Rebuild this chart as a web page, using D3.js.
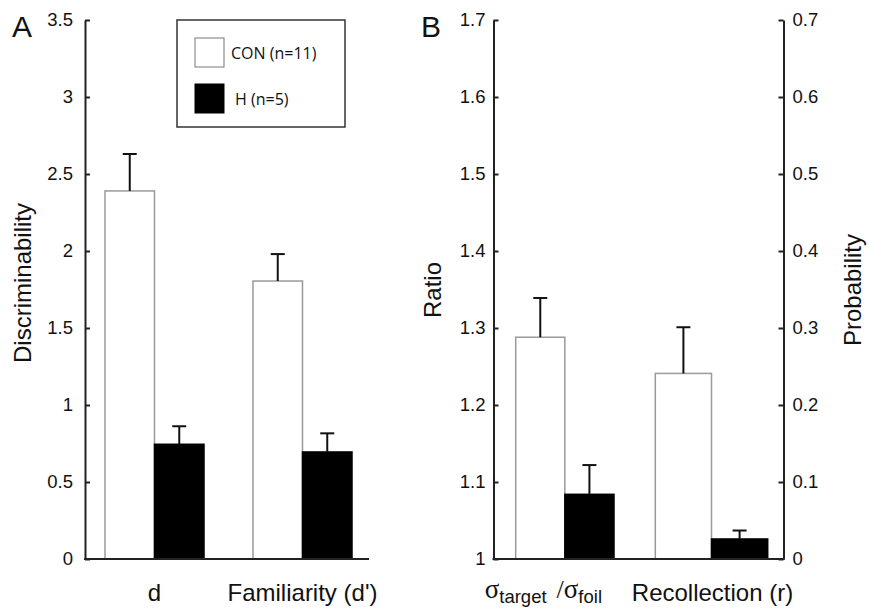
<!DOCTYPE html>
<html>
<head>
<meta charset="utf-8">
<script src="https://cdn.jsdelivr.net/npm/d3@7"></script>
<style>
  html, body { margin: 0; padding: 0; background: #fff; }
  svg { display: block; }
  text { font-family: "Liberation Sans", Arial, sans-serif; fill: #111; }
</style>
</head>
<body>
<svg id="chart" width="869" height="608"></svg>
<script>
// ---------- DATA ----------
const groups = ["CON", "H"];
const legendLabels = ["CON (n=11)", "H (n=5)"];

// Panel A
const categoriesA = ["d", "Familiarity (d')"];
const meanCON_A = [2.39, 1.805];
const errCON_A = [2.63, 1.98];
const meanH_A = [0.745, 0.695];
const errH_A = [0.862, 0.816];
const ticksA = [0, 0.5, 1, 1.5, 2, 2.5, 3, 3.5];
const tickLabelsA = ["0", "0.5", "1", "1.5", "2", "2.5", "3", "3.5"];

// Panel B (left axis: ratio, right axis: probability)
const categoriesB = ["σtarget / σfoil", "Recollection (r)"];
const meanCON_ratio = 1.288;
const errCON_ratio = 1.339;
const meanH_ratio = 1.084;
const errH_ratio = 1.122;
const meanCON_prob = 0.241;
const errCON_prob = 0.301;
const meanH_prob = 0.026;
const errH_prob = 0.037;
const ticksRatio = [1, 1.1, 1.2, 1.3, 1.4, 1.5, 1.6, 1.7];
const tickLabelsRatio = ["1", "1.1", "1.2", "1.3", "1.4", "1.5", "1.6", "1.7"];
const ticksProb = [0, 0.1, 0.2, 0.3, 0.4, 0.5, 0.6, 0.7];
const tickLabelsProb = ["0", "0.1", "0.2", "0.3", "0.4", "0.5", "0.6", "0.7"];

// ---------- DRAW ----------
const svg = d3.select("#chart");
const yBottom = 559, yTop = 20;
const tickFont = "18.5px";
const labelFont = "24px";
const serif = '"Liberation Serif", "DejaVu Serif", serif';

function styleAxis(g) {
  g.select(".domain").attr("stroke", "#222").attr("stroke-width", 2);
  g.selectAll(".tick line").attr("stroke", "#222").attr("stroke-width", 2);
  g.selectAll(".tick text").style("font-size", tickFont)
    .style("font-family", '"Liberation Sans", Arial, sans-serif').attr("fill", "#111");
}

function drawBars(g, xInner, yScale, means, errs) {
  groups.forEach((grp, i) => {
    const x = xInner(grp);
    const w = xInner.bandwidth();
    const isCON = grp === "CON";
    g.append("rect")
      .attr("x", x).attr("width", w)
      .attr("y", yScale(means[i])).attr("height", yScale.range()[0] - yScale(means[i]))
      .attr("fill", isCON ? "#fff" : "#000")
      .attr("stroke", isCON ? "#9a9a9a" : "#000")
      .attr("stroke-width", 1.5);
    const cx = x + w / 2;
    g.append("line").attr("x1", cx).attr("x2", cx)
      .attr("y1", yScale(means[i])).attr("y2", yScale(errs[i]))
      .attr("stroke", "#111").attr("stroke-width", 2);
    g.append("line").attr("x1", cx - 7).attr("x2", cx + 7)
      .attr("y1", yScale(errs[i])).attr("y2", yScale(errs[i]))
      .attr("stroke", "#111").attr("stroke-width", 2);
  });
}

// ===== Panel A =====
const axisXA = 85, axisEndA = 369;
const yA = d3.scaleLinear().domain([0, 3.5]).range([yBottom, yTop]);
const xA = d3.scaleBand().domain(categoriesA).range([105, 352]).paddingInner(0.331);

const gA = svg.append("g");
categoriesA.forEach((c, ci) => {
  const inner = d3.scaleBand().domain(groups).range([xA(c), xA(c) + xA.bandwidth()]);
  drawBars(gA, inner, yA, [meanCON_A[ci], meanH_A[ci]], [errCON_A[ci], errH_A[ci]]);
});

const axA = gA.append("g").attr("transform", `translate(${axisXA},0)`)
  .call(d3.axisLeft(yA).tickValues(ticksA).tickFormat((d, i) => tickLabelsA[i])
    .tickSizeInner(-5).tickSizeOuter(0).tickPadding(12));
styleAxis(axA);
gA.append("line").attr("x1", axisXA - 1).attr("x2", axisEndA)
  .attr("y1", yBottom).attr("y2", yBottom).attr("stroke", "#222").attr("stroke-width", 2);

categoriesA.forEach(c => {
  gA.append("text").attr("x", xA(c) + xA.bandwidth() / 2).attr("y", 601)
    .attr("text-anchor", "middle").style("font-size", labelFont).text(c);
});
gA.append("text").attr("transform", `translate(31,283) rotate(-90)`)
  .attr("text-anchor", "middle").style("font-size", labelFont).text("Discriminability");
gA.append("text").attr("x", 12).attr("y", 37).style("font-size", "30px").text("A");

// legend
const leg = gA.append("g");
leg.append("rect").attr("x", 177).attr("y", 20).attr("width", 168).attr("height", 107)
  .attr("fill", "#fff").attr("stroke", "#333").attr("stroke-width", 1.5);
groups.forEach((grp, i) => {
  const isCON = grp === "CON";
  leg.append("rect").attr("x", 195).attr("y", 38 + i * 46).attr("width", 29).attr("height", 29)
    .attr("fill", isCON ? "#fff" : "#000").attr("stroke", isCON ? "#777" : "#000").attr("stroke-width", 1);
  leg.append("text").attr("x", isCON ? 231 : 235).attr("y", 59 + i * 46)
    .style("font-family", '"Open Sans", sans-serif').style("font-size", "16px").text(legendLabels[i]);
});

// ===== Panel B =====
const axisXB = 493.5, axisXBR = 783.5;
const yRatio = d3.scaleLinear().domain([1, 1.7]).range([yBottom, yTop]);
const yProb = d3.scaleLinear().domain([0, 0.7]).range([yBottom, yTop]);
const gB = svg.append("g");

// two overlaid sub-plots: ratio (left half) and probability (right half)
const xRatio = d3.scaleBand().domain(groups).range([515.7, 614]);
const xProb = d3.scaleBand().domain(groups).range([655.3, 767.7]);
drawBars(gB, xRatio, yRatio, [meanCON_ratio, meanH_ratio], [errCON_ratio, errH_ratio]);
drawBars(gB, xProb, yProb, [meanCON_prob, meanH_prob], [errCON_prob, errH_prob]);

const axBL = gB.append("g").attr("transform", `translate(${axisXB},0)`)
  .call(d3.axisLeft(yRatio).tickValues(ticksRatio).tickFormat((d, i) => tickLabelsRatio[i])
    .tickSizeInner(-5).tickSizeOuter(0).tickPadding(8));
styleAxis(axBL);
const axBR = gB.append("g").attr("transform", `translate(${axisXBR},0)`)
  .call(d3.axisRight(yProb).tickValues(ticksProb).tickFormat((d, i) => tickLabelsProb[i])
    .tickSizeInner(-5).tickSizeOuter(0).tickPadding(9));
styleAxis(axBR);
gB.append("line").attr("x1", axisXB - 1).attr("x2", axisXBR + 1)
  .attr("y1", yBottom).attr("y2", yBottom).attr("stroke", "#222").attr("stroke-width", 2);

// x labels B: sigma_target / sigma_foil
const sig = gB.append("text").attr("x", xRatio.range()[0] - 31)
  .attr("y", 598).attr("text-anchor", "start").style("font-size", labelFont);
sig.append("tspan").style("font-family", serif).style("font-size", "27px").text("σ");
sig.append("tspan").attr("dy", 5).style("font-size", "18.5px").text("target");
sig.append("tspan").attr("dy", -5).attr("dx", 10).style("font-family", serif).style("font-size", "26px").text("/");
sig.append("tspan").style("font-family", serif).style("font-size", "27px").text("σ");
sig.append("tspan").attr("dy", 5).style("font-size", "18.5px").text("foil");

gB.append("text").attr("x", (xProb.range()[0] + xProb.range()[1]) / 2 + 1).attr("y", 601)
  .attr("text-anchor", "middle").style("font-size", labelFont).text(categoriesB[1]);

gB.append("text").attr("transform", `translate(441,290) rotate(-90)`)
  .attr("text-anchor", "middle").style("font-size", labelFont).text("Ratio");
gB.append("text").attr("transform", `translate(861,290) rotate(-90)`)
  .attr("text-anchor", "middle").style("font-size", labelFont).text("Probability");
gB.append("text").attr("x", 421).attr("y", 37).style("font-size", "30px").text("B");
</script>
</body>
</html>
